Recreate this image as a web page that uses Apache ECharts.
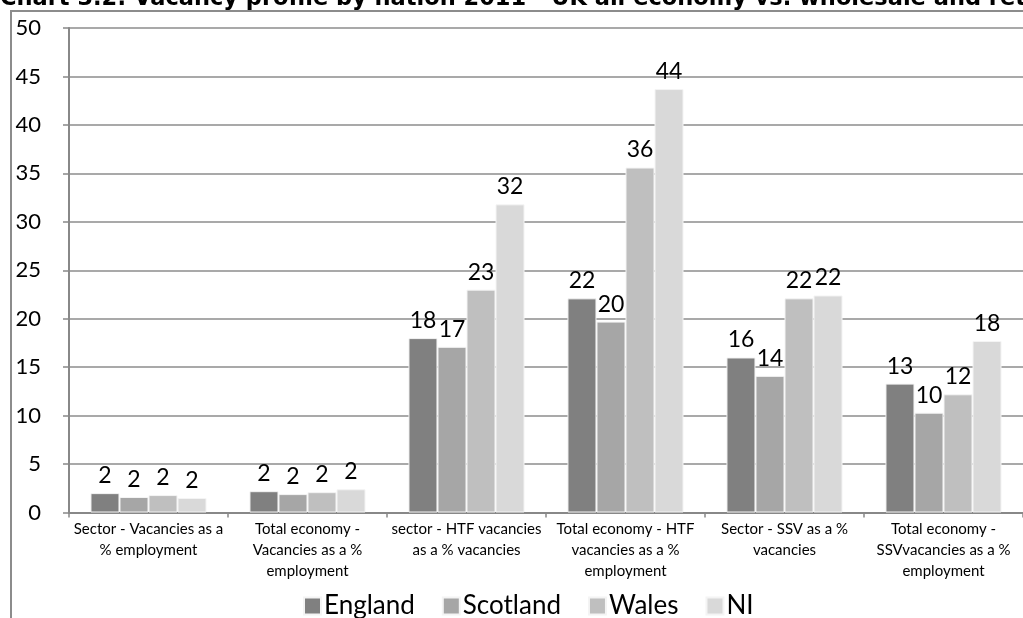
<!DOCTYPE html>
<html>
<head>
<meta charset="utf-8">
<script src="https://cdn.jsdelivr.net/npm/echarts@6/dist/echarts.min.js"></script>
<style>
  html, body { margin: 0; padding: 0; background: #fff; }
  #chart { width: 1023px; height: 618px; }
</style>
</head>
<body>
<div id="chart"></div>
<script>
// Vacancy indicators, grouped by measure, one bar per nation (%)
const categories = [
  'Sector - Vacancies as a\n% employment',
  'Total economy -\nVacancies as a %\nemployment',
  'sector - HTF vacancies\nas a % vacancies',
  'Total economy - HTF\nvacancies as a %\nemployment',
  'Sector - SSV as a %\nvacancies',
  'Total economy -\nSSVvacancies as a %\nemployment'
];
const england  = [2.0, 2.2, 18.0, 22.1, 16.0, 13.3];
const scotland = [1.6, 1.9, 17.1, 19.7, 14.1, 10.3];
const wales    = [1.8, 2.1, 23.0, 35.6, 22.1, 12.2];
const ni       = [1.5, 2.4, 31.8, 43.7, 22.4, 17.7];

const yTicks = { min: 0, max: 50, interval: 5 };
const titleText = 'Chart 3.2: Vacancy profile by nation 2011 - UK all economy vs. wholesale and retail';

const font = 'Lato, "Open Sans", sans-serif';

function barSeries(name, data, color) {
  return {
    name: name,
    type: 'bar',
    data: data,
    barGap: '0%',
    barCategoryGap: '27%',
    itemStyle: { color: color, borderColor: '#f4f4f4', borderWidth: 1 },
    label: {
      show: true,
      position: 'top',
      distance: 6,
      fontFamily: font,
      fontSize: 23,
      color: '#000',
      formatter: p => Math.round(p.value)
    }
  };
}

const chart = echarts.init(document.getElementById('chart'), null, { renderer: 'canvas' });
chart.setOption({
  animation: false,
  backgroundColor: '#fff',
  graphic: [
    {
      type: 'rect',
      shape: { x: 11, y: 11, width: 1030, height: 620 },
      style: { fill: 'none', stroke: '#8c8c8c', lineWidth: 2 },
      z: -1
    },
    {
      type: 'text',
      x: 0,
      y: -1,
      style: {
        text: titleText,
        fontFamily: '"DejaVu Sans", sans-serif',
        fontWeight: 'bold',
        fontSize: 22.5,
        fill: '#000',
        verticalAlign: 'middle'
      }
    }
  ],
  legend: {
    left: 298,
    top: 588,
    itemWidth: 17,
    itemHeight: 17,
    itemGap: 27,
    icon: 'rect',
    textStyle: { fontFamily: font, fontSize: 26, color: '#000', padding: [0, 0, 0, -2] },
    data: ['England', 'Scotland', 'Wales', 'NI']
  },
  grid: { left: 69, right: -6, top: 28, bottom: 105.5, containLabel: false },
  xAxis: {
    type: 'category',
    data: categories,
    axisLine: { lineStyle: { color: '#888', width: 2 } },
    axisTick: { show: true, length: 5, alignWithLabel: false, lineStyle: { color: '#888', width: 1.5 } },
    axisLabel: {
      interval: 0,
      fontFamily: font,
      fontSize: 15,
      lineHeight: 21,
      color: '#000',
      margin: 6
    }
  },
  yAxis: {
    type: 'value',
    min: yTicks.min,
    max: yTicks.max,
    interval: yTicks.interval,
    axisLine: { show: true, lineStyle: { color: '#888', width: 2 } },
    axisTick: { show: true, length: 6, lineStyle: { color: '#888', width: 1.5 } },
    splitLine: { lineStyle: { color: '#8c8c8c', width: 1.5 } },
    axisLabel: { fontFamily: font, fontSize: 22, color: '#000', margin: 28 }
  },
  series: [
    barSeries('England', england, '#808080'),
    barSeries('Scotland', scotland, '#a6a6a6'),
    barSeries('Wales', wales, '#bfbfbf'),
    barSeries('NI', ni, '#d9d9d9')
  ]
});
</script>
</body>
</html>
